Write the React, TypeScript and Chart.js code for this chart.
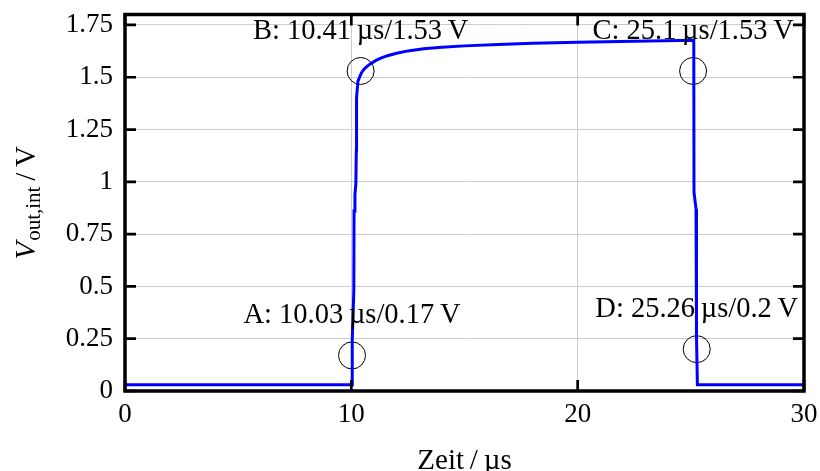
import { useEffect, useRef } from 'react';
import { Chart, registerables } from 'chart.js';

Chart.register(...registerables);

// Integrator output voltage over time (µs, V)
const timeUs = [
  0, 10.03, 10.04, 10.11, 10.12, 10.16, 10.2, 10.22, 10.23, 10.29, 10.38, 10.45,
  10.55, 10.68, 10.85, 11.05, 11.3, 11.6, 12.0, 12.5, 13.2, 14.0, 15.0, 16.5,
  18.0, 20.0, 22.5, 25.13, 25.14, 25.23, 25.25, 25.29, 30,
];
const voltageV = [
  0.03, 0.03, 0.24, 0.48, 0.86, 0.94, 0.99, 1.15, 1.4, 1.48, 1.505, 1.522,
  1.537, 1.551, 1.565, 1.578, 1.591, 1.603, 1.615, 1.626, 1.636, 1.643, 1.65, 1.657,
  1.662, 1.667, 1.672, 1.677, 0.95, 0.87, 0.26, 0.03, 0.03,
];

// Measurement cursors
const cursorNames = ['A', 'B', 'C', 'D'];
const cursorTimeUs = [10.03, 10.41, 25.1, 25.26];
const cursorVoltageV = [0.17, 1.53, 1.53, 0.2];

const xTickValues = [0, 10, 20, 30];
const yTickValues = [0, 0.25, 0.5, 0.75, 1, 1.25, 1.5, 1.75];

const xTitle = 'Zeit\u2009/\u2009µs';
const yTitleMain = 'V';
const yTitleSub = 'out,int';
const yTitleUnit = '\u2009/\u2009V';

const SERIF = '"Liberation Serif", "Times New Roman", serif';

const framePlugin = {
  id: 'frameAndLabels',
  afterDatasetsDraw(chart: any) {
    const { ctx, chartArea: a, scales } = chart;
    ctx.save();
    ctx.strokeStyle = '#000';
    ctx.lineCap = 'butt';

    // inward ticks on all four sides
    const len = 11;
    ctx.lineWidth = 2.7;
    ctx.beginPath();
    for (const v of xTickValues) {
      const px = scales.x.getPixelForValue(v);
      ctx.moveTo(px, a.bottom);
      ctx.lineTo(px, a.bottom - len);
      ctx.moveTo(px, a.top);
      ctx.lineTo(px, a.top + len);
    }
    for (const v of yTickValues) {
      const py = scales.y.getPixelForValue(v);
      ctx.moveTo(a.left, py);
      ctx.lineTo(a.left + len, py);
      ctx.moveTo(a.right, py);
      ctx.lineTo(a.right - len, py);
    }
    ctx.stroke();

    // box frame
    ctx.lineWidth = 3.5;
    ctx.lineJoin = 'miter';
    ctx.strokeRect(a.left, a.top, a.right - a.left, a.bottom - a.top);

    // cursor labels
    ctx.fillStyle = '#000';
    ctx.font = `28.5px ${SERIF}`;
    ctx.textAlign = 'center';
    ctx.textBaseline = 'alphabetic';
    cursorNames.forEach((n, i) => {
      const px = scales.x.getPixelForValue(cursorTimeUs[i]);
      const py = scales.y.getPixelForValue(cursorVoltageV[i]);
      ctx.fillText(`${n}: ${cursorTimeUs[i]}\u2009µs/${cursorVoltageV[i]}\u2009V`, px, py - 32);
    });
    ctx.restore();
  },
  afterDraw(chart: any) {
    const { ctx, chartArea: a } = chart;
    ctx.save();
    ctx.fillStyle = '#000';
    ctx.textBaseline = 'alphabetic';

    // x axis title
    ctx.font = `29px ${SERIF}`;
    ctx.textAlign = 'center';
    ctx.fillText(xTitle, (a.left + a.right) / 2, 469);

    // y axis title with subscript, rotated
    const mainFont = `italic 29px ${SERIF}`;
    const subFont = `21px ${SERIF}`;
    const unitFont = `29px ${SERIF}`;
    ctx.font = mainFont;
    const w1 = ctx.measureText(yTitleMain).width;
    ctx.font = subFont;
    const w2 = ctx.measureText(yTitleSub).width;
    ctx.font = unitFont;
    const w3 = ctx.measureText(yTitleUnit).width;
    const total = w1 + 1 + w2 + w3;
    ctx.translate(35, (a.top + a.bottom) / 2);
    ctx.rotate(-Math.PI / 2);
    ctx.textAlign = 'left';
    let x = -total / 2;
    ctx.font = mainFont;
    ctx.fillText(yTitleMain, x, 0);
    x += w1 + 1;
    ctx.font = subFont;
    ctx.fillText(yTitleSub, x, 5);
    x += w2;
    ctx.font = unitFont;
    ctx.fillText(yTitleUnit, x, 0);
    ctx.restore();
  },
};

export default function App() {
  const canvasRef = useRef<HTMLCanvasElement | null>(null);

  useEffect(() => {
    const canvas = canvasRef.current;
    if (!canvas) return;

    const chart = new Chart(canvas, {
      type: 'line',
      data: {
        datasets: [
          {
            data: timeUs.map((t, i) => ({ x: t, y: voltageV[i] })),
            borderColor: '#0000ff',
            borderWidth: 3,
            pointRadius: 0,
            tension: 0,
            fill: false,
          },
          {
            data: cursorTimeUs.map((t, i) => ({ x: t, y: cursorVoltageV[i] })),
            showLine: false,
            pointRadius: 13.5,
            pointBorderWidth: 1,
            pointBorderColor: '#000',
            pointBackgroundColor: 'rgba(0,0,0,0)',
            borderColor: '#000',
            backgroundColor: 'rgba(0,0,0,0)',
          },
        ],
      },
      options: {
        animation: false,
        responsive: false,
        maintainAspectRatio: false,
        events: [],
        layout: { padding: { top: 13.4, right: 16, left: 0, bottom: 0 } },
        plugins: {
          legend: { display: false },
          tooltip: { enabled: false },
        },
        scales: {
          x: {
            type: 'linear',
            min: 0,
            max: 30,
            afterBuildTicks: (s: any) => {
              s.ticks = xTickValues.map((v) => ({ value: v }));
            },
            afterFit: (s: any) => {
              s.height = 80;
              s.paddingLeft = 0;
              s.paddingRight = 0;
            },
            grid: { color: '#cccccc', lineWidth: 1, drawTicks: false },
            border: { display: false },
            ticks: {
              font: { size: 27, family: SERIF },
              color: '#000',
              padding: 8,
              maxRotation: 0,
              autoSkip: false,
              callback: (v: any) => String(v),
            },
          },
          y: {
            type: 'linear',
            min: 0,
            max: 1.8,
            afterBuildTicks: (s: any) => {
              s.ticks = yTickValues.map((v) => ({ value: v }));
            },
            afterFit: (s: any) => {
              s.width = 125;
              s.paddingTop = 0;
              s.paddingBottom = 0;
            },
            grid: { color: '#cccccc', lineWidth: 1, drawTicks: false },
            border: { display: false },
            ticks: {
              font: { size: 27, family: SERIF },
              color: '#000',
              padding: 12,
              autoSkip: false,
              callback: (v: any) => String(v),
            },
          },
        },
      },
      plugins: [framePlugin],
    });

    return () => chart.destroy();
  }, []);

  return (
    <div style={{ position: 'fixed', left: 0, top: 0, width: 820, height: 471, background: '#fff' }}>
      <canvas ref={canvasRef} width={820} height={471} style={{ display: 'block' }} />
    </div>
  );
}
